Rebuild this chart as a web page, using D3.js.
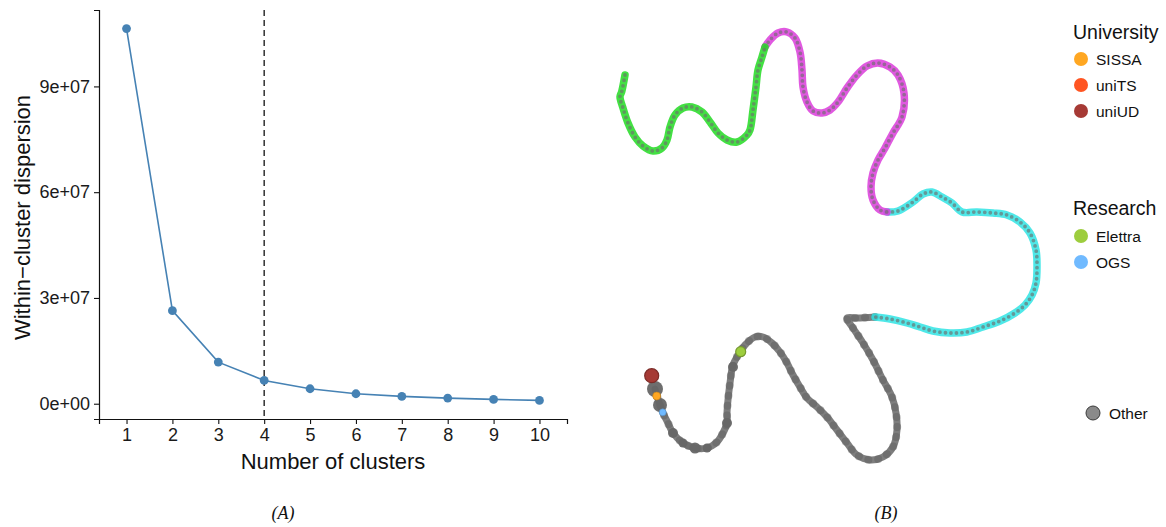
<!DOCTYPE html>
<html>
<head>
<meta charset="utf-8">
<script src="https://cdn.jsdelivr.net/npm/d3@7"></script>
<style>
  body { margin: 0; background: #fff; }
  svg { display: block; }
  text { font-family: "Liberation Sans", Arial, Helvetica, sans-serif; }
</style>
</head>
<body>
<svg id="fig" width="1166" height="527"></svg>
<script>
// ---------- Panel A: elbow curve ----------
const clusterCounts = [1, 2, 3, 4, 5, 6, 7, 8, 9, 10];
const dispersion = [1.064e8, 2.64e7, 1.18e7, 6.6e6, 4.25e6, 2.83e6, 2.08e6, 1.6e6, 1.23e6, 0.94e6];
const chosenK = 4;
const yTickValues = [0, 3e7, 6e7, 9e7];
const yTickLabels = ["0e+00", "3e+07", "6e+07", "9e+07"];

// ---------- Panel B: embedding path, one list per cluster (dim1, dim2) ----------
const clusterGreen = [
  [2.5,39.5],[2.17,37.83],[2.0,37.33],[2.3,36.2],[2.8,34.7],[3.5,33.3],[4.3,32.4],[5.3,31.9],
  [6.2,32.2],[6.7,33.0],[7.0,34.3],[7.5,35.5],[8.3,36.2],[9.2,36.3],[10.2,35.8],[11.0,34.8],
  [11.8,33.7],[12.7,33.0],[13.7,32.8],[14.7,33.5],[15.0,34.0],[15.3,36.0],[15.6,38.3],[15.8,40.0],
  [16.2,41.3],[16.5,42.3]
];
const clusterMagenta = [
  [16.5,42.3],[17.0,43.0],[17.8,43.7],[18.7,43.8],[19.5,43.2],[20.0,41.8],[20.2,40.0],[20.3,38.3],
  [20.7,36.8],[21.3,35.9],[22.2,35.7],[23.0,36.0],[23.8,36.8],[24.7,38.2],[25.7,39.5],[26.7,40.4],
  [27.8,40.7],[29.0,40.3],[29.8,39.5],[30.4,37.7],[30.2,35.3],[29.3,33.7],[28.5,32.2],[27.8,31.0],
  [27.3,29.7],[27.1,28.3],[27.3,27.0],[28.0,26.0],[28.7,25.8]
];
const clusterCyan = [
  [28.7,25.8],[29.8,25.9],[31.3,26.8],[32.3,27.6],[33.2,27.8],[34.2,27.3],[35.2,26.7],[36.2,25.8],
  [37.7,25.8],[39.3,25.7],[40.7,25.5],[42.0,24.8],[43.0,23.7],[43.6,22.0],[43.7,20.3],[43.6,18.7],
  [43.2,17.5],[42.5,16.5],[41.5,15.7],[40.0,14.9],[38.3,14.3],[36.7,13.8],[35.0,13.7],[33.3,13.9],
  [32.0,14.3],[30.7,14.7],[29.0,15.1],[27.5,15.3]
];
const clusterGrey = [
  [27.5,15.3],[25.7,15.2],[24.7,15.2],[25.3,14.2],[26.3,12.7],[27.3,11.0],[28.3,9.0],[29.2,7.3],
  [29.6,5.7],[29.7,4.0],[29.3,2.3],[28.3,1.3],[27.0,1.0],[25.7,1.5],[24.7,2.7],[23.7,4.0],
  [22.7,5.3],[21.7,6.3],[20.7,7.2],[20.0,8.3],[19.3,9.5],[18.7,10.7],[18.0,11.8],[17.2,12.7],
  [16.3,13.3],[15.5,13.3],[14.5,12.5],[14.0,11.8],[13.3,10.5],[13.0,8.7],[12.8,7.0],[12.7,5.7],
  [12.7,4.7],[12.3,3.7],[11.7,2.8],[10.7,2.2],[9.5,2.2],[8.3,2.7],[7.3,3.7],[6.8,4.7],
  [6.3,5.7],[6.0,6.5],[5.5,8.1]
];
// larger "Other" institutions along the grey branch: dim1, dim2, size
const otherHubs = [
  [5.5,8.1,8],[6.0,6.5,7],[9.5,2.2,5.5],[7.3,3.7,5],[12.7,4.7,5],[13.3,10.3,5],[8.3,2.7,4.5],[10.7,2.2,4.5]
];
// named institutions: label, group, dim1, dim2, size
const institutions = [
  ["uniUD", "University", 5.17, 9.43, 7],
  ["SISSA", "University", 5.67, 7.4, 4],
  ["OGS", "Research", 6.27, 5.77, 3.5],
  ["Elettra", "Research", 14.07, 11.83, 5]
];
const universityNames = ["SISSA", "uniTS", "uniUD"];
const researchNames = ["Elettra", "OGS"];
const otherName = "Other";

const instColor = {
  SISSA: "#FFA722", uniTS: "#FF5522", uniUD: "#A63A35",
  Elettra: "#9DCD3E", OGS: "#70BAFF"
};

const svg = d3.select("#fig");

// ================= Panel A =================
const x = d3.scaleLinear().domain([0.4, 10.6]).range([99, 567]);
const yMin = d3.min(dispersion), yMax = d3.max(dispersion);
const pad = (yMax - yMin) * 0.05;
const y = d3.scaleLinear().domain([yMin - pad, yMax + pad]).range([419, 10]);

const gA = svg.append("g");

const xAxis = gA.append("g")
  .attr("transform", "translate(0,419)")
  .call(d3.axisBottom(x).tickValues(clusterCounts).tickSizeOuter(0).tickSize(5).tickPadding(4));
const yAxis = gA.append("g")
  .attr("transform", "translate(99,0)")
  .call(d3.axisLeft(y).tickValues(yTickValues).tickFormat((d, i) => yTickLabels[i])
    .tickSizeOuter(0).tickSize(5).tickPadding(4));

[xAxis, yAxis].forEach(a => {
  a.select(".domain").attr("stroke", "#111").attr("stroke-width", 1.2);
  a.selectAll(".tick line").attr("stroke", "#111").attr("stroke-width", 1.1);
  a.selectAll(".tick text").attr("fill", "#1a1a1a").style("font-size", "18px");
});

// chosen number of clusters
gA.append("line")
  .attr("x1", x(chosenK)).attr("x2", x(chosenK))
  .attr("y1", y.range()[1]).attr("y2", y.range()[0])
  .attr("stroke", "#222").attr("stroke-width", 1.4)
  .attr("stroke-dasharray", "6,4");

const line = d3.line().x((d, i) => x(clusterCounts[i])).y(d => y(d));
gA.append("path")
  .datum(dispersion)
  .attr("d", line)
  .attr("fill", "none").attr("stroke", "#4682B4").attr("stroke-width", 1.6);

gA.selectAll("circle.pt").data(dispersion).join("circle")
  .attr("class", "pt")
  .attr("cx", (d, i) => x(clusterCounts[i])).attr("cy", d => y(d))
  .attr("r", 4.4).attr("fill", "#4682B4");

gA.append("text")
  .attr("x", (x.range()[0] + x.range()[1]) / 2).attr("y", 469)
  .attr("text-anchor", "middle").style("font-size", "22px").attr("fill", "#111")
  .text("Number of clusters");

gA.append("text")
  .attr("transform", `translate(30,${(y.range()[0] + y.range()[1]) / 2 + 3}) rotate(-90)`)
  .attr("text-anchor", "middle").style("font-size", "22px").attr("fill", "#111")
  .text("Within\u2212cluster dispersion");

// ================= Panel B =================
const u = d3.scaleLinear().domain([0, 44]).range([600, 1040]);
const v = d3.scaleLinear().domain([0, 45]).range([470, 20]);
const gB = svg.append("g");
const path = d3.line().x(d => u(d[0])).y(d => v(d[1])).curve(d3.curveCatmullRom.alpha(0.5));

function colouredBranch(pts, colour) {
  gB.append("path").attr("d", path(pts))
    .attr("fill", "none").attr("stroke", colour).attr("stroke-width", 7.5)
    .attr("stroke-linecap", "round").attr("stroke-linejoin", "round").attr("opacity", 0.85);
  gB.append("path").attr("d", path(pts))
    .attr("fill", "none").attr("stroke", "#6f6f6f").attr("stroke-width", 3.8)
    .attr("stroke-linecap", "round").attr("stroke-dasharray", "0 5.5").attr("opacity", 0.65);
}

// grey branch
gB.append("path").attr("d", path(clusterGrey))
  .attr("fill", "none").attr("stroke", "#707070").attr("stroke-width", 7)
  .attr("stroke-linecap", "round").attr("stroke-linejoin", "round").attr("opacity", 0.9);
gB.append("path").attr("d", path(clusterGrey))
  .attr("fill", "none").attr("stroke", "#606060").attr("stroke-width", 8)
  .attr("stroke-linecap", "round").attr("stroke-dasharray", "0 10").attr("opacity", 0.5);

colouredBranch(clusterCyan, "#30E4E4");
colouredBranch(clusterMagenta, "#DA3CDA");
colouredBranch(clusterGreen, "#22DA22");

gB.selectAll("circle.hub").data(otherHubs).join("circle")
  .attr("class", "hub")
  .attr("cx", d => u(d[0])).attr("cy", d => v(d[1])).attr("r", d => d[2])
  .attr("fill", "#666").attr("opacity", 0.95);

gB.selectAll("circle.inst").data(institutions).join("circle")
  .attr("class", "inst")
  .attr("cx", d => u(d[2])).attr("cy", d => v(d[3])).attr("r", d => d[4])
  .attr("fill", d => instColor[d[0]])
  .attr("stroke", d => d3.color(instColor[d[0]]).darker(0.8))
  .attr("stroke-width", d => d[4] > 4.5 ? 1.2 : 0.6);

// legends
const lg = svg.append("g");
function legendBlock(title, names, titleY, firstY) {
  lg.append("text").attr("x", 1073).attr("y", titleY)
    .style("font-size", "19.5px").attr("fill", "#111").text(title);
  names.forEach((n, i) => {
    const cy = firstY + i * 26;
    lg.append("circle").attr("cx", 1081).attr("cy", cy).attr("r", 7).attr("fill", instColor[n]);
    lg.append("text").attr("x", 1096).attr("y", cy + 5.5)
      .style("font-size", "15.5px").attr("fill", "#111").text(n);
  });
}
legendBlock("University", universityNames, 39, 59);
legendBlock("Research", researchNames, 215, 236);

lg.append("circle").attr("cx", 1093).attr("cy", 413).attr("r", 7)
  .attr("fill", "#8a8a8a").attr("stroke", "#3a3a3a").attr("stroke-width", 1);
lg.append("text").attr("x", 1109).attr("y", 418.5)
  .style("font-size", "15.5px").attr("fill", "#111").text(otherName);

// panel captions
[["(A)", 283], ["(B)", 886]].forEach(([t, cx]) => {
  svg.append("text").attr("x", cx).attr("y", 519).attr("text-anchor", "middle")
    .style("font-family", "'Liberation Serif','DejaVu Serif',serif").style("font-style", "italic")
    .style("font-size", "18px").attr("fill", "#111").text(t);
});
</script>
</body>
</html>
